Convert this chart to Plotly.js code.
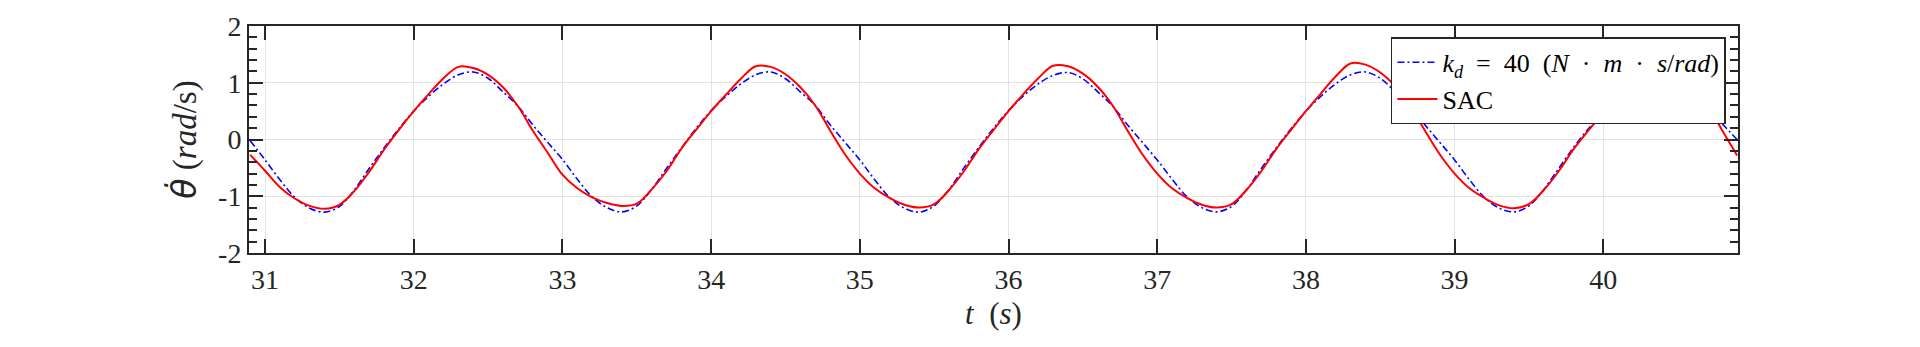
<!DOCTYPE html>
<html>
<head>
<meta charset="utf-8">
<script src="https://cdn.plot.ly/plotly-3.0.1.min.js"></script>
<style>html,body{margin:0;padding:0;background:#fff;}#chart{width:1920px;height:347px;}</style>
</head>
<body>
<div id="chart"></div>
<script>
// time (s)
var time = [30.9,31.0,31.1,31.2,31.3,31.4,31.5,31.6,31.7,31.8,31.9,
  32.0,32.1,32.2,32.3,32.4,32.5,32.6,32.7,32.8,32.9,
  33.0,33.1,33.2,33.3,33.4,33.5,33.6,33.7,33.8,33.9,
  34.0,34.1,34.2,34.3,34.4,34.5,34.6,34.7,34.8,34.9,
  35.0,35.1,35.2,35.3,35.4,35.5,35.6,35.7,35.8,35.9,
  36.0,36.1,36.2,36.3,36.4,36.5,36.6,36.7,36.8,36.9,
  37.0,37.1,37.2,37.3,37.4,37.5,37.6,37.7,37.8,37.9,
  38.0,38.1,38.2,38.3,38.4,38.5,38.6,38.7,38.8,38.9,
  39.0,39.1,39.2,39.3,39.4,39.5,39.6,39.7,39.8,39.9,
  40.0,40.1,40.2,40.3,40.4,40.5,40.6,40.7,40.8,40.9];

// k_d = 40 response (rad/s)
var kdSeries = [-0.02,-0.36,-0.71,-1.02,-1.21,-1.28,-1.18,-0.89,-0.51,-0.15,0.19,
  0.50,0.76,0.98,1.14,1.19,1.08,0.84,0.59,0.26,-0.05,
  -0.35,-0.70,-1.01,-1.20,-1.275,-1.17,-0.88,-0.51,-0.15,0.20,
  0.51,0.76,0.98,1.14,1.19,1.07,0.84,0.60,0.26,-0.05,
  -0.36,-0.71,-1.02,-1.21,-1.28,-1.17,-0.88,-0.50,-0.14,0.20,
  0.51,0.77,0.98,1.13,1.18,1.07,0.84,0.59,0.26,-0.05,
  -0.36,-0.70,-1.01,-1.20,-1.275,-1.18,-0.89,-0.51,-0.15,0.19,
  0.50,0.76,0.98,1.14,1.19,1.08,0.84,0.59,0.26,-0.05,
  -0.36,-0.71,-1.02,-1.21,-1.275,-1.17,-0.88,-0.51,-0.14,0.19,
  0.48,0.76,0.98,1.14,1.19,1.08,0.84,0.59,0.28,0.0];

// SAC response (rad/s)
var sacSeries = [-0.27,-0.55,-0.84,-1.04,-1.17,-1.22,-1.15,-0.91,-0.57,-0.18,0.17,
  0.50,0.80,1.08,1.28,1.26,1.14,0.92,0.59,0.16,-0.23,
  -0.62,-0.86,-1.02,-1.12,-1.17,-1.13,-0.88,-0.56,-0.16,0.175,
  0.50,0.79,1.07,1.29,1.28,1.15,0.92,0.60,0.16,-0.26,
  -0.60,-0.86,-1.03,-1.15,-1.20,-1.14,-0.89,-0.56,-0.17,0.17,
  0.50,0.80,1.08,1.30,1.29,1.16,0.93,0.60,0.16,-0.26,
  -0.60,-0.86,-1.03,-1.15,-1.20,-1.14,-0.89,-0.56,-0.17,0.17,
  0.50,0.81,1.11,1.34,1.32,1.18,0.94,0.60,0.16,-0.26,
  -0.60,-0.86,-1.03,-1.16,-1.21,-1.14,-0.89,-0.56,-0.17,0.16,
  0.47,0.80,1.08,1.30,1.29,1.16,0.93,0.60,0.16,-0.28];

var xTicks = [31,32,33,34,35,36,37,38,39,40];
var xTickLabels = ['31','32','33','34','35','36','37','38','39','40'];
var yTicks = [-2,-1,0,1,2];
var yTickLabels = ['-2','-1','0','1','2'];

var seriesNames = ['<i>k</i><sub><i>d</i></sub>\u2002=\u200240\u2002(<i>N</i>\u2002·\u2002<i>m</i>\u2002·\u2002<i>s</i>/<i>rad</i>)', 'SAC'];

var serif = 'Liberation Serif, serif';
var axisCol = '#262626';

var traces = [
  {x: time, y: kdSeries, name: seriesNames[0], type: 'scatter', mode: 'lines',
   line: {color: 'rgb(0,0,255)', width: 1.6, dash: '7px,3px,2px,3px', shape: 'spline', smoothing: 1}},
  {x: time, y: sacSeries, name: seriesNames[1], type: 'scatter', mode: 'lines',
   line: {color: 'rgb(255,0,0)', width: 2, shape: 'spline', smoothing: 1}}
];

var layout = {
  width: 1920, height: 347,
  margin: {l: 249, r: 182, t: 26, b: 94, pad: 0},
  paper_bgcolor: '#fff', plot_bgcolor: '#fff',
  font: {family: serif, color: axisCol},
  showlegend: true,
  legend: {x: 0.9919, y: 0.95, xanchor: 'right', yanchor: 'top',
    bgcolor: '#fff', bordercolor: axisCol, borderwidth: 1.5, itemwidth: 40,
    font: {family: serif, size: 26, color: '#000'}, tracegroupgap: 0},
  xaxis: {
    range: [30.892, 40.906], tickmode: 'array', tickvals: xTicks, ticktext: xTickLabels,
    ticks: 'inside', ticklen: 14, tickwidth: 2, tickcolor: axisCol,
    showline: true, linecolor: axisCol, linewidth: 2, mirror: 'ticks',
    showgrid: true, gridcolor: '#e3e3e3', gridwidth: 1, zeroline: false,
    tickfont: {family: serif, size: 28, color: axisCol},
    title: {text: '<i>t</i>\u2002(<i>s</i>)', font: {family: serif, size: 31, color: axisCol}, standoff: 9}
  },
  yaxis: {
    range: [-2, 2], tickmode: 'array', tickvals: yTicks, ticktext: yTickLabels,
    ticks: 'inside', ticklen: 14, tickwidth: 2, tickcolor: axisCol,
    minor: {dtick: 0.2, tick0: 0, ticks: 'inside', ticklen: 8, tickwidth: 2, tickcolor: axisCol, showgrid: false},
    showline: true, linecolor: axisCol, linewidth: 2, mirror: 'ticks',
    showgrid: true, gridcolor: '#e3e3e3', gridwidth: 1, zeroline: false,
    tickfont: {family: serif, size: 28, color: axisCol},
    title: {text: '<span style="font-family:DejaVu Sans"><i>θ̇</i></span> (<i>rad</i>/s)', font: {family: serif, size: 33, color: axisCol}, standoff: 12}
  }
};

Plotly.newPlot('chart', traces, layout, {staticPlot: true, displayModeBar: false});
</script>
</body>
</html>
